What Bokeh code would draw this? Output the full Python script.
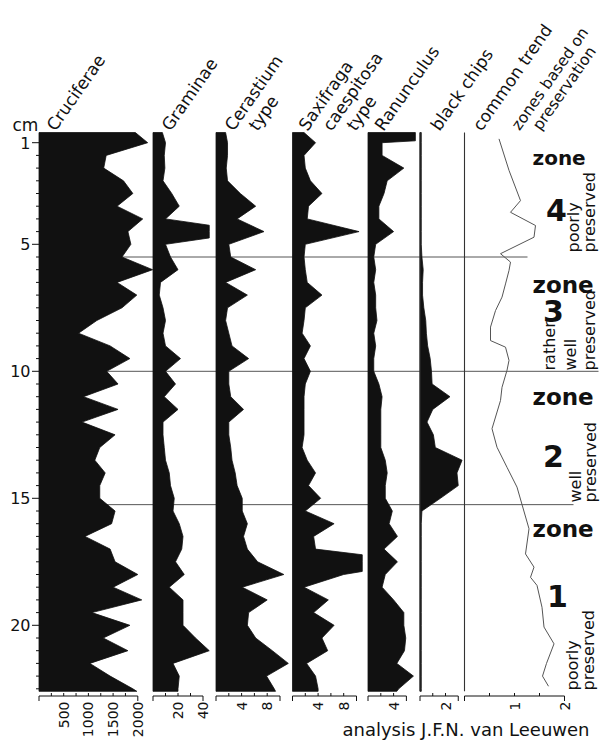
import numpy as np
from bokeh.plotting import figure
from bokeh.models import Range1d
from bokeh.core.properties import value
from bokeh.embed import file_html
from bokeh.resources import INLINE

# ---------------- data ----------------
depth_cm = [0.6, 1.0, 1.5, 2.0, 2.5, 3.0, 3.5, 4.0, 4.5, 5.0,
            5.5, 6.0, 6.5, 7.0, 7.5, 8.0, 8.5, 9.0, 9.5, 10.0,
            10.5, 11.0, 11.5, 12.0, 12.5, 13.0, 13.5, 14.0, 14.5, 15.0,
            15.5, 16.0, 16.5, 17.0, 17.5, 18.0, 18.5, 19.0, 19.5, 20.0,
            20.5, 21.0, 21.5, 22.0, 22.5, 22.6]

cruciferae = [1950, 2200, 1360, 1310, 1710, 1900, 1580, 2100, 1800, 1860,
              1680, 2300, 1580, 1980, 1680, 1170, 800, 1440, 1840, 1370,
              1600, 900, 1600, 870, 1540, 1230, 1130, 1340, 1230, 1230,
              1540, 1470, 930, 1440, 1540, 2000, 1500, 2080, 1070, 1840,
              1300, 1800, 1030, 1440, 1900, 1980]

graminae = [7.5, 10, 9, 9.5, 8, 15, 21, 10, 80, 10,
            14, 20, 6, 5, 8, 10, 8, 10, 22, 10,
            18, 9, 20, 8, 8, 9, 10, 13, 14, 17,
            16, 21, 24, 23, 18, 25, 13, 24, 24, 24,
            34, 45, 16, 21, 20, 20]

cerastium = [1.5, 1.8, 1.8, 1.6, 1.8, 3.8, 6.2, 3.3, 7.5, 2.0,
             2.3, 6.2, 1.5, 4.9, 1.8, 1.5, 2.0, 2.5, 5.1, 2.0,
             2.0, 2.3, 4.3, 2.0, 2.0, 2.3, 2.5, 3.0, 3.3, 4.1,
             4.1, 4.9, 4.3, 4.9, 6.5, 10.6, 4.1, 8.0, 5.1, 4.9,
             6.2, 8.8, 11.3, 7.9, 9.1, 9.3]

saxifraga = [1.8, 3.6, 1.8, 2.0, 2.8, 4.6, 2.5, 2.3, 10.4, 2.0,
             1.8, 2.0, 2.3, 4.6, 2.0, 1.8, 1.5, 2.8, 1.8, 2.8,
             2.0, 1.8, 1.8, 1.8, 1.8, 1.5, 2.3, 3.6, 2.5, 4.4,
             2.0, 6.5, 3.3, 3.6, 20.0, 8.0, 1.8, 5.6, 3.3, 6.5,
             4.6, 5.5, 2.2, 3.6, 4.0, 4.0]

ranunculus = [30.0, 2.2, 2.2, 5.6, 3.0, 2.5, 1.7, 1.7, 4.0, 1.2,
              0.9, 1.2, 0.9, 1.2, 1.2, 1.4, 0.9, 1.2, 0.9, 0.9,
              1.7, 2.2, 2.0, 2.0, 2.0, 2.0, 2.7, 3.0, 2.7, 2.7,
              3.8, 3.3, 4.6, 2.5, 4.6, 2.7, 2.2, 4.0, 5.6, 5.6,
              5.9, 5.7, 4.5, 7.1, 4.8, 4.5]

black_chips = [0.1, 0.1, 0.1, 0.1, 0.1, 0.1, 0.1, 0.1, 0.1, 0.1,
               0.15, 0.25, 0.2, 0.2, 0.3, 0.45, 0.5, 0.6, 0.8, 0.9,
               0.95, 2.35, 1.0, 0.55, 1.05, 1.2, 3.3, 2.9, 3.0, 1.6,
               0.15, 0.1, 0.1, 0.1, 0.1, 0.1, 0.1, 0.1, 0.1, 0.1,
               0.1, 0.1, 0.1, 0.1, 0.1, 0.1]

trend_depth = [0.85, 2.09, 3.28, 3.74, 4.26, 4.72, 5.37, 5.70, 6.03, 6.56,
               7.08, 7.61, 8.26, 8.79, 9.05, 9.57, 9.96, 10.63, 11.15, 12.26,
               12.99, 13.78, 14.56, 16.2, 17.19, 17.71, 18.11, 18.43, 19.29, 20.07,
               20.73, 21.5, 22.0, 22.4]
trend_value = [0.69, 0.89, 1.12, 0.92, 1.42, 1.39, 0.72, 0.92, 0.89, 0.82,
               0.75, 0.62, 0.52, 0.52, 0.82, 0.89, 0.85, 0.75, 0.72, 0.55,
               0.65, 0.85, 1.05, 1.29, 1.22, 1.39, 1.32, 1.45, 1.55, 1.59,
               1.79, 1.64, 1.56, 1.68]

zone_bounds = [5.5, 10.0, 15.25]
depth_labels = [1, 5, 10, 15, 20]

cru_ticks = [0, 250, 500, 750, 1000, 1250, 1500, 1750, 2000]
cru_labels = [500, 1000, 1500, 2000]
gra_ticks = [0, 10, 20, 30, 40]
gra_labels = [20, 40]
cer_ticks = [0, 2, 4, 6, 8, 10]
cer_labels = [4, 8]
sax_ticks = [0, 2, 4, 6, 8, 10]
sax_labels = [4, 8]
ran_ticks = [0, 2, 4, 6]
ran_labels = [4]
chips_ticks = [0, 1, 2, 3]
chips_labels = [2]
trend_ticks = [0, 0.5, 1, 1.5, 2]
trend_labels = [1, 2]

header_lines = ["Cruciferae", "Graminae", "Cerastium", "type", "Saxifraga",
                "caespitosa", "type", "Ranunculus", "black chips",
                "common trend", "zones based on", "preservation"]
zone_words = ["zone", "zone", "zone", "zone"]
zone_numbers = ["4", "3", "2", "1"]
zone_notes = [["poorly", "preserved"], ["rather", "well", "preserved"],
              ["well", "preserved"], ["poorly", "preserved"]]
credit = "analysis  J.F.N. van Leeuwen"

# ---------------- layout (page pixels; canvas sits at the page origin) ----------------
W, H = 600, 740
PX0, PY0 = 0, 0
CM_PX = 25.4          # pixels per cm of depth
CM1_Y = 142.2         # page y of 1 cm
INK = "#111111"
GREY = "#555555"
FONT = "DejaVu Sans"
HEAD_ANGLE = np.deg2rad(55)

# panel: (page x of zero, pixels per unit)
panels = {
    "cru": (38.5, 0.0494),
    "gra": (152.5, 1.25),
    "cer": (215.5, 6.4),
    "sax": (292.0, 6.4),
    "ran": (367.5, 6.4),
    "chips": (419.5, 12.75),
    "trend": (464.0, 50.0),
}


def depth_at(y):
    return 1 + (y - CM1_Y) / CM_PX


p = figure(width=W, height=H, x_range=Range1d(PX0, PX0 + W),
           y_range=Range1d(PY0 + H, PY0), output_backend="svg",
           toolbar_location=None, min_border=0, x_axis_type=None,
           y_axis_type=None, title=None)
p.outline_line_color = None
p.background_fill_color = "white"
p.border_fill_color = "white"
p.extra_y_ranges = {"depth": Range1d(depth_at(PY0 + H), depth_at(PY0))}
p.extra_x_ranges = {k: Range1d((PX0 - L) / s, (PX0 + W - L) / s)
                    for k, (L, s) in panels.items()}


def put_text(xs, ys, texts, size, angle=0.0, align="left",
             baseline="alphabetic", style="normal", xr="default", yr="default",
             color=INK):
    p.text(x=list(xs), y=list(ys), text=list(texts), angle=angle,
           text_font=value(FONT), text_font_size=value(f"{size}px"),
           text_font_style=style, text_align=align, text_baseline=baseline,
           text_color=color, x_range_name=xr, y_range_name=yr)


def capped(ds, vs, cap):
    """profile limited to the width of its column"""
    if cap is None:
        return list(ds), list(vs)
    od, ov = [ds[0]], [min(vs[0], cap)]
    for i in range(1, len(ds)):
        d0, v0, d1, v1 = ds[i - 1], vs[i - 1], ds[i], vs[i]
        if (v0 - cap) * (v1 - cap) < 0:
            t = (cap - v0) / (v1 - v0)
            od.append(d0 + t * (d1 - d0))
            ov.append(cap)
        od.append(d1)
        ov.append(min(v1, cap))
    return od, ov


# zone boundary lines (behind the silhouettes)
p.segment(x0=[38.5] * 3, y0=zone_bounds, x1=[527, 598, 573], y1=zone_bounds,
          y_range_name="depth", line_color=GREY, line_width=1)

# silhouettes
series = [("cru", cruciferae, None), ("gra", graminae, 45),
          ("cer", cerastium, None), ("sax", saxifraga, 10.9),
          ("ran", ranunculus, 7.4), ("chips", black_chips, None)]
for name, vals, cap in series:
    d, v = capped(depth_cm, vals, cap)
    xs = [0] + v + [0]
    ys = [d[0]] + d + [d[-1]]
    p.patch(x=xs, y=ys, x_range_name=name, y_range_name="depth",
            fill_color=INK, line_color=INK, line_width=0.8)

# base lines of black chips and common trend
for name in ["chips", "trend"]:
    p.segment(x0=[0], y0=[depth_cm[0]], x1=[0], y1=[depth_cm[-1]],
              x_range_name=name, y_range_name="depth", line_color="#333333",
              line_width=1.1)

# common trend curve
p.line(x=trend_value, y=trend_depth, x_range_name="trend",
       y_range_name="depth", line_color=GREY, line_width=1)

# depth axis
minor = [d for d in np.arange(1.0, 22.51, 0.5) if d not in depth_labels]
p.segment(x0=[31.5] * len(depth_labels), y0=depth_labels,
          x1=[38.5] * len(depth_labels), y1=depth_labels,
          y_range_name="depth", line_color=INK, line_width=1)
p.segment(x0=[35.5] * len(minor), y0=minor, x1=[38.5] * len(minor), y1=minor,
          y_range_name="depth", line_color=INK, line_width=1)
put_text([30] * len(depth_labels), depth_labels, [str(v) for v in depth_labels],
         16, align="right", baseline="middle", yr="depth")
put_text([12], [124], ["cm"], 17)

# bottom scales
AXIS_Y = 695.5
scales = [("cru", cru_ticks, cru_labels), ("gra", gra_ticks, gra_labels),
          ("cer", cer_ticks, cer_labels), ("sax", sax_ticks, sax_labels),
          ("ran", ran_ticks, ran_labels), ("chips", chips_ticks, chips_labels),
          ("trend", trend_ticks, trend_labels)]
for name, ticks, labels in scales:
    n = len(ticks)
    p.segment(x0=[ticks[0]], y0=[AXIS_Y], x1=[ticks[-1]], y1=[AXIS_Y],
              x_range_name=name, line_color=INK, line_width=1)
    p.segment(x0=ticks[1:-1], y0=[AXIS_Y] * (n - 2), x1=ticks[1:-1],
              y1=[AXIS_Y - 3] * (n - 2), x_range_name=name, line_color=INK,
              line_width=1)
    p.segment(x0=[ticks[0], ticks[-1]], y0=[AXIS_Y] * 2,
              x1=[ticks[0], ticks[-1]], y1=[AXIS_Y + 5] * 2,
              x_range_name=name, line_color=INK, line_width=1)
    put_text(labels, [701] * len(labels), [str(v) for v in labels], 14,
             angle=np.pi / 2, align="right", baseline="middle", xr=name)

# column headers
header_x = [50, 165, 228, 252, 302, 326, 350, 378, 434, 476]
put_text(header_x, [128] * len(header_x), header_lines[:10], 17,
         angle=HEAD_ANGLE)
put_text([515, 536], [128, 128], header_lines[10:], 15.5, angle=HEAD_ANGLE)

# zone annotations
word_xy = [(532, 157, 20), (532, 284, 23), (532, 396, 23), (532, 528, 23)]
for (x, y, s), w in zip(word_xy, zone_words):
    put_text([x], [y], [w], s, style="bold")
num_xy = [(556, 209), (553, 310), (553, 455), (557, 595)]
put_text([q[0] for q in num_xy], [q[1] for q in num_xy], zone_numbers, 30,
         align="center", style="bold")
note_xy = [[(573, 252), (589, 252)],
           [(549, 370), (570, 370), (589, 370)],
           [(575, 502), (590, 502)],
           [(572, 690), (588, 690)]]
for notes, xy in zip(zone_notes, note_xy):
    put_text([q[0] for q in xy], [q[1] for q in xy], notes, 16,
             angle=np.pi / 2, align="left", baseline="middle")

# credit
put_text([342], [729], [credit], 18)

open("out.html", "w").write(file_html(p, INLINE))
